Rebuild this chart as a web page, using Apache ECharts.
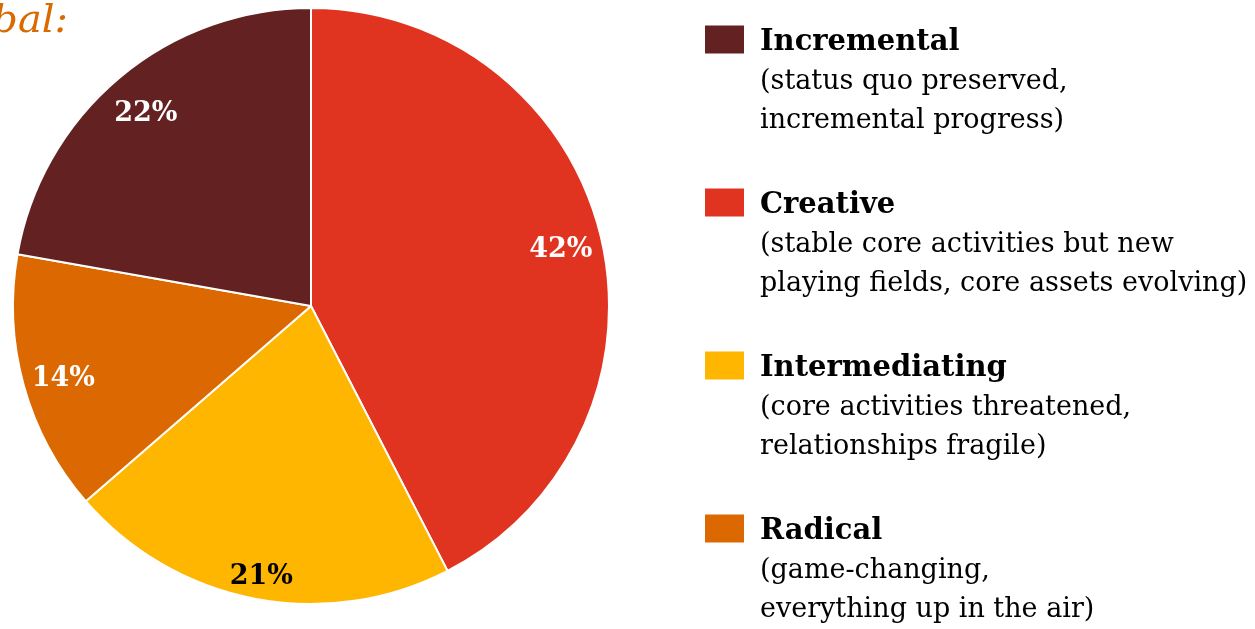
<!DOCTYPE html>
<html>
<head>
<meta charset="utf-8">
<script src="https://cdn.jsdelivr.net/npm/echarts@6/dist/echarts.min.js"></script>
<style>
  html, body { margin: 0; padding: 0; background: #ffffff; }
  #chart { width: 1255px; height: 629px; }
</style>
</head>
<body>
<div id="chart"></div>
<script>
// Slices, clockwise from 12 o'clock
const categories = ['Creative', 'Intermediating', 'Radical', 'Incremental'];
const shares = [42, 21, 14, 22];

// Legend order and the explanatory lines under each name
const legendOrder = ['Incremental', 'Creative', 'Intermediating', 'Radical'];
const descriptions = [
  ['(status quo preserved,', 'incremental progress)'],
  ['(stable core activities but new', 'playing fields, core assets evolving)'],
  ['(core activities threatened,', 'relationships fragile)'],
  ['(game-changing,', 'everything up in the air)']
];

const headline = 'Global:';

// Styling
const sliceColors = {
  Creative: '#E03320',
  Intermediating: '#FFB600',
  Radical: '#DB6800',
  Incremental: '#632221'
};
const labelColors = {
  Creative: '#ffffff',
  Intermediating: '#000000',
  Radical: '#ffffff',
  Incremental: '#ffffff'
};
// value labels sit slightly low; the bottom slice carries its label further out
const LABEL_SHIFT = [0, 5];
const labelNudge = {
  Intermediating: [-1, 19]
};
const SERIF = '"DejaVu Serif", "Liberation Serif", serif';
const CENTER = [311, 306];
const RADIUS = 298;
const LABEL_RADIUS = 254;

const LEGEND_LEFT = 703;
const LEGEND_TOP = 22;
const LEGEND_ITEM_H = 30;
const LEGEND_GAP = 128;      // legend row box is ~35px tall -> 163px row pitch
const ROW_PITCH = 163;
const TEXT_X = 760;
const DESC_SIZE = 27;
const DESC_LINE = 39;
const FIRST_DESC_TOP = 62;

const chart = echarts.init(document.getElementById('chart'), null, { renderer: 'canvas' });

const pieData = categories.map((name, i) => ({
  name: name,
  value: shares[i],
  itemStyle: { color: sliceColors[name] }
}));

const labelData = categories.map((name, i) => ({
  name: name,
  value: shares[i],
  itemStyle: { color: 'rgba(0,0,0,0)' },
  label: { color: labelColors[name], offset: labelNudge[name] || LABEL_SHIFT }
}));

const descGraphics = descriptions.map((lines, i) => ({
  type: 'text',
  x: TEXT_X,
  y: FIRST_DESC_TOP + ROW_PITCH * i,
  style: {
    text: lines.join('\n'),
    font: DESC_SIZE + 'px ' + SERIF,
    fill: '#000000',
    lineHeight: DESC_LINE,
    verticalAlign: 'top',
    align: 'left'
  },
  silent: true
}));

const option = {
  animation: false,
  backgroundColor: '#ffffff',
  legend: {
    data: legendOrder,
    orient: 'vertical',
    left: LEGEND_LEFT,
    top: LEGEND_TOP,
    icon: 'rect',
    itemWidth: 41,
    itemHeight: LEGEND_ITEM_H,
    itemGap: LEGEND_GAP,
    selectedMode: false,
    padding: 0,
    formatter: name => '{t|' + name + '}',
    textStyle: {
      rich: {
        t: {
          fontFamily: SERIF,
          fontWeight: 'bold',
          fontSize: 29,
          color: '#000000',
          lineHeight: 24,
          padding: [6, 0, 0, 10]
        }
      }
    }
  },
  graphic: [
    {
      type: 'text',
      x: 68,
      y: 22,
      style: {
        text: headline,
        font: 'italic 40px ' + SERIF,
        fill: '#D96A00',
        align: 'right',
        verticalAlign: 'middle'
      },
      silent: true
    }
  ].concat(descGraphics),
  series: [
    {
      type: 'pie',
      center: CENTER,
      radius: [0, RADIUS],
      startAngle: 90,
      clockwise: true,
      silent: true,
      label: { show: false },
      labelLine: { show: false },
      itemStyle: { borderColor: '#ffffff', borderWidth: 2 },
      data: pieData
    },
    {
      // transparent twin whose mid-radius sits where the value labels go
      type: 'pie',
      center: CENTER,
      radius: [0, LABEL_RADIUS * 2],
      startAngle: 90,
      clockwise: true,
      silent: true,
      legendHoverLink: false,
      labelLine: { show: false },
      label: {
        show: true,
        position: 'inside',
        formatter: '{c}%',
        fontFamily: SERIF,
        fontWeight: 'bold',
        fontSize: 27
      },
      data: labelData
    }
  ]
};

chart.setOption(option);
</script>
</body>
</html>
